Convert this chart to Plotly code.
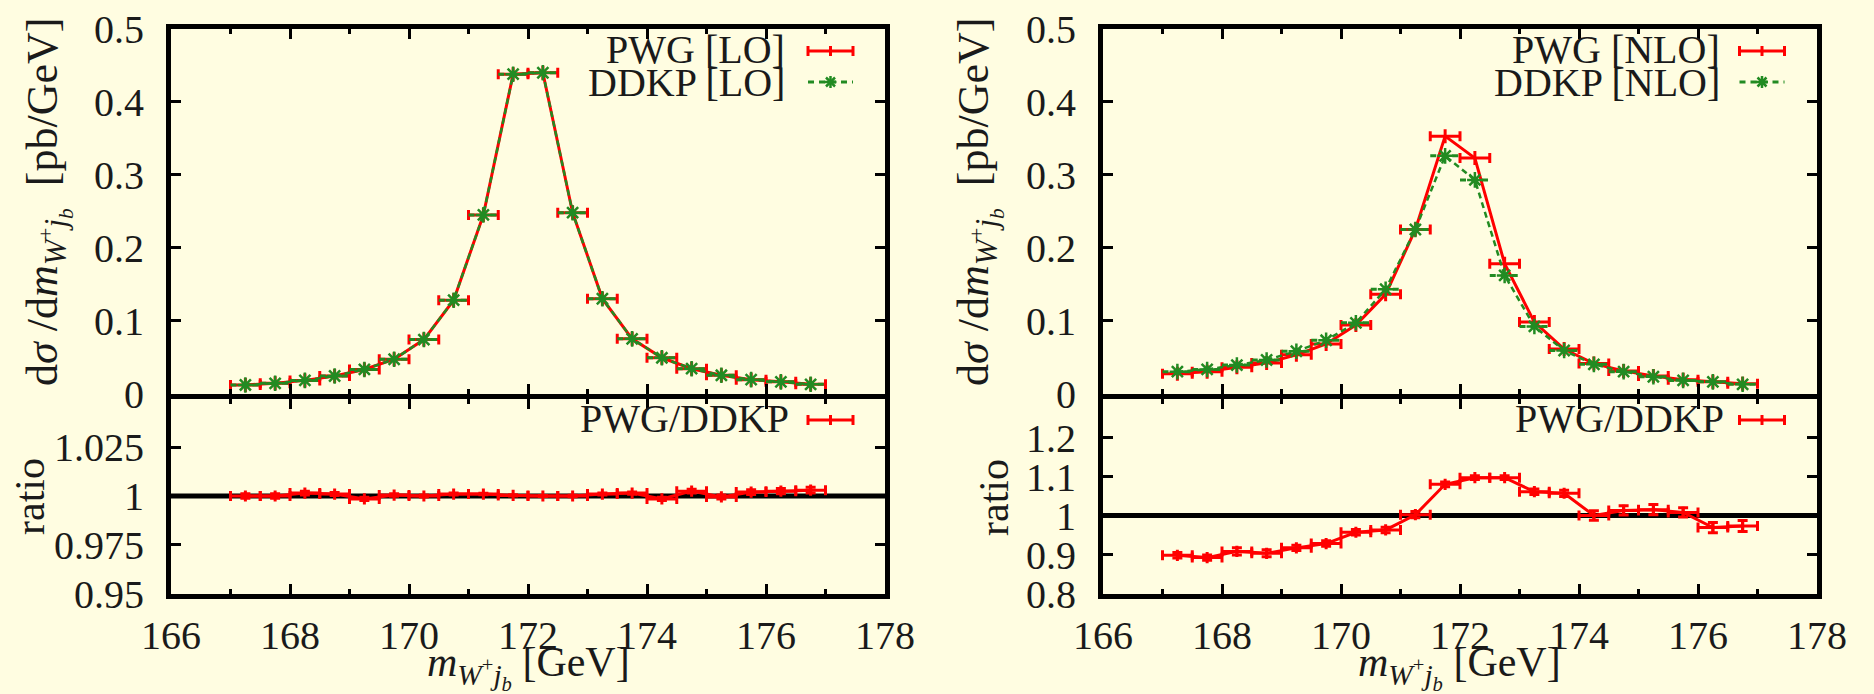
import plotly.graph_objects as go

# ---------------- data ----------------
bin_centers = [167.25, 167.75, 168.25, 168.75, 169.25, 169.75, 170.25, 170.75, 171.25, 171.75,
               172.25, 172.75, 173.25, 173.75, 174.25, 174.75, 175.25, 175.75, 176.25, 176.75]
bin_half_width = 0.25

lo_pwg = [0.0117, 0.014, 0.018, 0.024, 0.033, 0.047, 0.074, 0.128, 0.245, 0.438,
          0.440, 0.248, 0.130, 0.075, 0.049, 0.034, 0.025, 0.019, 0.016, 0.0126]
lo_ddkp = [0.0117, 0.014, 0.018, 0.024, 0.033, 0.047, 0.074, 0.128, 0.245, 0.438,
           0.440, 0.248, 0.130, 0.075, 0.049, 0.034, 0.025, 0.019, 0.016, 0.0126]
lo_ratio = [1.0, 1.0, 1.0015, 1.001, 0.9985, 1.0005, 1.0, 1.001, 1.001, 1.0003,
            1.0, 1.0, 1.001, 1.0015, 0.9985, 1.0025, 0.9995, 1.002, 1.0025, 1.003]
lo_ratio_err = [0.0012, 0.0012, 0.0010, 0.0008, 0.0008, 0.0006, 0.0005, 0.0005, 0.0004, 0.0003,
                0.0003, 0.0004, 0.0005, 0.0006, 0.0008, 0.0010, 0.0010, 0.0012, 0.0014, 0.0015]

nlo_pwg = [0.027, 0.030, 0.036, 0.042, 0.053, 0.068, 0.094, 0.136, 0.225, 0.353,
           0.323, 0.178, 0.098, 0.061, 0.041, 0.031, 0.024, 0.019, 0.016, 0.0135]
nlo_ddkp = [0.030, 0.033, 0.039, 0.046, 0.058, 0.073, 0.097, 0.143, 0.225, 0.326,
            0.293, 0.162, 0.092, 0.059, 0.040, 0.030, 0.023, 0.018, 0.016, 0.0126]
nlo_ratio = [0.898, 0.892, 0.908, 0.903, 0.917, 0.928, 0.957, 0.963, 1.002, 1.080,
             1.097, 1.097, 1.061, 1.057, 1.000, 1.013, 1.015, 1.008, 0.969, 0.973]
nlo_ratio_err = [0.007, 0.007, 0.009, 0.009, 0.007, 0.007, 0.007, 0.007, 0.008, 0.006,
                 0.005, 0.005, 0.007, 0.008, 0.012, 0.012, 0.013, 0.012, 0.013, 0.014]

x_ticks = [166, 168, 170, 172, 174, 176, 178]
top_ticks = [0, 0.1, 0.2, 0.3, 0.4, 0.5]
top_labels = ["0", "0.1", "0.2", "0.3", "0.4", "0.5"]
lo_ratio_ticks = [0.95, 0.975, 1.0, 1.025, 1.05]
lo_ratio_labels = ["0.95", "0.975", "1", "1.025", " "]
nlo_ratio_ticks = [0.8, 0.9, 1.0, 1.1, 1.2, 1.3]
nlo_ratio_labels = ["0.8", "0.9", "1", "1.1", "1.2", " "]

legend_lo = ["PWG [LO]", "DDKP [LO]"]
legend_nlo = ["PWG [NLO]", "DDKP [NLO]"]
legend_ratio = "PWG/DDKP"

# ---------------- style ----------------
W, H = 1874, 694
BG = "#FFFDE1"
RED = "#FF0000"
GREEN = "#228B22"
TXT = "#1a1a1a"
FONT = "Liberation Serif"
FS_TICK = 40
FS_LEG = 40
FS_TITLE = 42
FS_YTITLE = 44


def px(x):
    return x / W


def py(y):
    return 1 - y / H


fig = go.Figure()


def add_panel(xa, ya, xr, yr, pwg, ddkp, ratio, ratio_err):
    fig.add_trace(go.Scatter(
        x=bin_centers, y=pwg, xaxis=xa, yaxis=ya, mode="lines+markers",
        line=dict(color=RED, width=3),
        marker=dict(symbol="line-ns", size=10, line=dict(color=RED, width=3)),
        error_x=dict(type="constant", value=bin_half_width, color=RED, thickness=3, width=5),
        showlegend=False, hoverinfo="skip"))
    seg_x, seg_y = [], []
    for c, v in zip(bin_centers, ddkp):
        seg_x += [c - bin_half_width, c + bin_half_width, None]
        seg_y += [v, v, None]
    fig.add_trace(go.Scatter(
        x=seg_x, y=seg_y, xaxis=xa, yaxis=ya, mode="lines",
        line=dict(color=GREEN, width=3, dash="6px,5px"),
        showlegend=False, hoverinfo="skip"))
    fig.add_trace(go.Scatter(
        x=bin_centers, y=ddkp, xaxis=xa, yaxis=ya, mode="lines+markers",
        line=dict(color=GREEN, width=2.5, dash="6px,4px"),
        marker=dict(symbol="asterisk-open", size=13, color=GREEN, line=dict(color=GREEN, width=2.5)),
        showlegend=False, hoverinfo="skip"))
    fig.add_trace(go.Scatter(
        x=bin_centers, y=ratio, xaxis=xr, yaxis=yr, mode="lines+markers",
        line=dict(color=RED, width=3),
        marker=dict(symbol="line-ns", size=8, line=dict(color=RED, width=3)),
        error_x=dict(type="constant", value=bin_half_width, color=RED, thickness=3, width=5),
        error_y=dict(type="data", array=ratio_err, color=RED, thickness=3, width=5),
        showlegend=False, hoverinfo="skip"))


add_panel("x", "y", "x2", "y2", lo_pwg, lo_ddkp, lo_ratio, lo_ratio_err)
add_panel("x3", "y3", "x4", "y4", nlo_pwg, nlo_ddkp, nlo_ratio, nlo_ratio_err)

left_dom = [px(171), px(885)]
right_dom = [px(1103), px(1817)]
top_dom = [py(393.5), py(29)]
bot_dom = [py(593.5), py(398.5)]

tickfont = dict(family=FONT, size=FS_TICK, color=TXT)
common = dict(showline=True, linewidth=5, linecolor="black", mirror="ticks",
              ticks="inside", ticklen=10, tickwidth=2.5, tickcolor="black",
              showgrid=False, zeroline=False, tickfont=tickfont, automargin=False)
xcommon = dict(common, range=[166, 178], tickvals=x_ticks,
               minor=dict(dtick=1, tick0=166, ticks="inside", ticklen=5, tickwidth=2.5, tickcolor="black",
                          showgrid=False))

fig.update_layout(
    width=W, height=H, margin=dict(l=0, r=0, t=0, b=0, autoexpand=False),
    paper_bgcolor=BG, plot_bgcolor=BG, showlegend=False,
    font=dict(family=FONT, size=FS_TICK, color=TXT),
    xaxis=dict(xcommon, domain=left_dom, anchor="y", showticklabels=False),
    yaxis=dict(common, domain=top_dom, anchor="x", range=[0, 0.5], tickvals=top_ticks,
               ticktext=top_labels, ticklabelstandoff=14),
    xaxis2=dict(xcommon, domain=left_dom, anchor="y2", ticklabelstandoff=2),
    yaxis2=dict(common, domain=bot_dom, anchor="x2", range=[0.95, 1.05], tickvals=lo_ratio_ticks,
                ticktext=lo_ratio_labels, ticklabelstandoff=14),
    xaxis3=dict(xcommon, domain=right_dom, anchor="y3", showticklabels=False),
    yaxis3=dict(common, domain=top_dom, anchor="x3", range=[0, 0.5], tickvals=top_ticks,
                ticktext=top_labels, ticklabelstandoff=14),
    xaxis4=dict(xcommon, domain=right_dom, anchor="y4", ticklabelstandoff=2),
    yaxis4=dict(common, domain=bot_dom, anchor="x4", range=[0.8, 1.3], tickvals=nlo_ratio_ticks,
                ticktext=nlo_ratio_labels, ticklabelstandoff=14),
)

shapes = []
for xa, ya in (("x2", "y2"), ("x4", "y4")):
    shapes.append(dict(type="line", xref=xa + " domain", x0=0, x1=1, yref=ya, y0=1, y1=1,
                       line=dict(color="black", width=5), layer="below"))

annotations = []
ytitle = "d<i>σ</i> /d<i>m</i><sub><i>W</i><sup>+</sup><i>j<sub>b</sub></i></sub>  [pb/GeV]"
xtitle = "<i>m</i><sub><i>W</i><sup>+</sup><i>j<sub>b</sub></i></sub> [GeV]"
lfont = dict(family=FONT, size=FS_LEG, color=TXT)
tfont = dict(family=FONT, size=FS_TITLE, color=TXT)
yfont = dict(family=FONT, size=FS_YTITLE, color=TXT)


def key_red(x0, x1, y):
    shapes.append(dict(type="line", xref="paper", yref="paper", x0=px(x0), x1=px(x1), y0=py(y), y1=py(y),
                       line=dict(color=RED, width=3)))
    for xx in (x0, x1, (x0 + x1) / 2):
        shapes.append(dict(type="line", xref="paper", yref="paper", x0=px(xx), x1=px(xx),
                           y0=py(y - 5), y1=py(y + 5), line=dict(color=RED, width=3)))


def key_green(x0, x1, y):
    shapes.append(dict(type="line", xref="paper", yref="paper", x0=px(x0), x1=px(x1), y0=py(y), y1=py(y),
                       line=dict(color=GREEN, width=3, dash="6px,5px")))
    xc = (x0 + x1) / 2
    for dx, dy in ((0, 6), (6, 0), (4.5, 4.5), (4.5, -4.5)):
        shapes.append(dict(type="line", xref="paper", yref="paper", x0=px(xc - dx), x1=px(xc + dx),
                           y0=py(y - dy), y1=py(y + dy), line=dict(color=GREEN, width=2.5)))


for (fx0, fx1, labels, tx) in ((168.5, 888, legend_lo, 787), (1100, 1819.5, legend_nlo, 1722)):
    cx = (fx0 + fx1) / 2
    annotations.append(dict(text=labels[0], x=px(tx), y=py(49), xref="paper", yref="paper",
                            xanchor="right", yanchor="middle", showarrow=False, font=lfont))
    annotations.append(dict(text=labels[1], x=px(tx), y=py(83), xref="paper", yref="paper",
                            xanchor="right", yanchor="middle", showarrow=False, font=lfont))
    annotations.append(dict(text=legend_ratio, x=px(tx + 4), y=py(418), xref="paper", yref="paper",
                            xanchor="right", yanchor="middle", showarrow=False, font=lfont))
    key_red(fx1 - 80, fx1 - 35, 51)
    key_green(fx1 - 80, fx1 - 35, 82)
    key_red(fx1 - 80, fx1 - 35, 420)
    annotations.append(dict(text=xtitle, x=px(cx), y=-3 / H, xref="paper", yref="paper",
                            xanchor="center", yanchor="bottom", showarrow=False, font=tfont))

for (x, y, t, f) in ((48, 202, ytitle, yfont), (30, 497, "ratio", tfont),
                     (979, 202, ytitle, yfont), (994, 497, "ratio", tfont)):
    annotations.append(dict(text=t, x=px(x), y=py(y), xref="paper", yref="paper", textangle=-90,
                            xanchor="center", yanchor="middle", showarrow=False, font=f))

fig.update_layout(shapes=shapes, annotations=annotations)
fig.write_html("out.html")
